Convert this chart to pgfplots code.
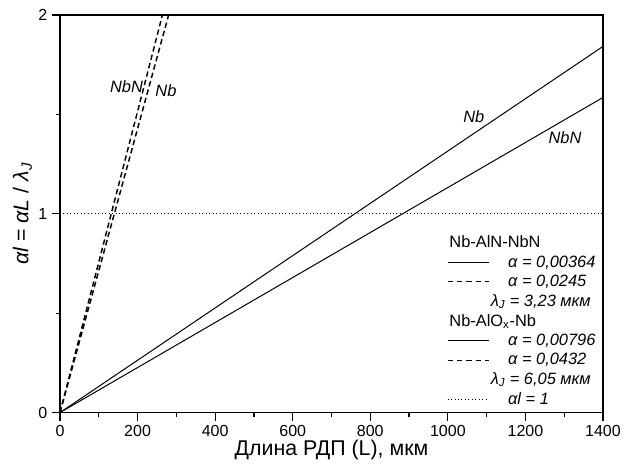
\documentclass[border=0pt]{standalone}
\usepackage{fontspec}
\setmainfont{Liberation Sans}
\usepackage{pgfplots}
\pgfplotsset{compat=1.18}

\begin{document}
\begin{tikzpicture}
\begin{axis}[
    scale only axis,
    width=407pt, height=298pt,
    xmin=0, xmax=1400, ymin=0, ymax=2,
    xtick={0,200,...,1400}, minor xtick={100,300,...,1300},
    ytick={0,1,2}, minor ytick={0.5,1.5},
    tick pos=left, tick align=outside,
    major tick length=6pt, minor tick length=3pt,
    axis line style={line width=0.9pt},
    every tick/.style={line width=0.9pt, black},
    /pgf/number format/assume math mode=true,
    /pgf/number format/1000 sep={},
    ticklabel style={font=\fontsize{12}{14}\selectfont},
    xlabel={Длина РДП (L), мкм},
    ylabel={\textit{αl} = \textit{αL} / \textit{λ}\textsubscript{\textit{J}}},
    label style={font=\fontsize{16}{18}\selectfont},
    xlabel style={yshift=4pt},
    ylabel style={yshift=-2pt},
    legend style={draw=none, fill=none, at={(rel axis cs:0.705,0.458)}, anchor=north west,
        font=\fontsize{12.3}{14}\selectfont, row sep=0.4pt, column sep=12pt,
        cells={anchor=west}},
    legend image code/.code={\draw[#1] (0pt,0pt) -- (31pt,0pt);},
]
% Nb-AlOx-Nb
\addplot[black, line width=0.75pt, forget plot] coordinates {(0,0) (1400,1.842)};
\addplot[black, line width=1.1pt, dash pattern=on 4pt off 2.5pt, forget plot] coordinates {(0,0) (280,2)};
% Nb-AlN-NbN
\addplot[black, line width=0.75pt, forget plot] coordinates {(0,0) (1400,1.585)};
\addplot[black, line width=1.1pt, dash pattern=on 4pt off 2.5pt, forget plot] coordinates {(0,0) (264,2)};
% al = 1
\addplot[black, line width=0.6pt, dotted, forget plot] coordinates {(0,1) (1400,1)};

\node[font=\fontsize{12.3}{14}\selectfont\itshape, anchor=east] at (axis cs:226,1.64) {NbN};
\node[font=\fontsize{12.3}{14}\selectfont\itshape, anchor=west] at (axis cs:234,1.62) {Nb};
\node[font=\fontsize{12.3}{14}\selectfont\itshape] at (axis cs:1067,1.49) {Nb};
\node[font=\fontsize{12.3}{14}\selectfont\itshape] at (axis cs:1302,1.385) {NbN};

\addlegendimage{empty legend}
\addlegendentry{\hspace{-44pt}Nb-AlN-NbN}
\addlegendimage{black, line width=0.75pt}
\addlegendentry{\textit{α = 0,00364}}
\addlegendimage{black, line width=0.75pt, dash pattern=on 4pt off 3pt}
\addlegendentry{\textit{α = 0,0245}}
\addlegendimage{empty legend}
\addlegendentry{\hspace{-13pt}\textit{λ\textsubscript{J} = 3,23 мкм}}
\addlegendimage{empty legend}
\addlegendentry{\hspace{-44pt}Nb-AlO\textsubscript{x}-Nb}
\addlegendimage{black, line width=0.75pt}
\addlegendentry{\textit{α = 0,00796}}
\addlegendimage{black, line width=0.75pt, dash pattern=on 4pt off 3pt}
\addlegendentry{\textit{α = 0,0432}}
\addlegendimage{empty legend}
\addlegendentry{\hspace{-13pt}\textit{λ\textsubscript{J} = 6,05 мкм}}
\addlegendimage{black, line width=0.6pt, dotted}
\addlegendentry{\textit{αl = 1}}
\end{axis}
\path (-45pt,-40.5pt) rectangle (430.25pt,309.25pt);
\end{tikzpicture}
\end{document}
